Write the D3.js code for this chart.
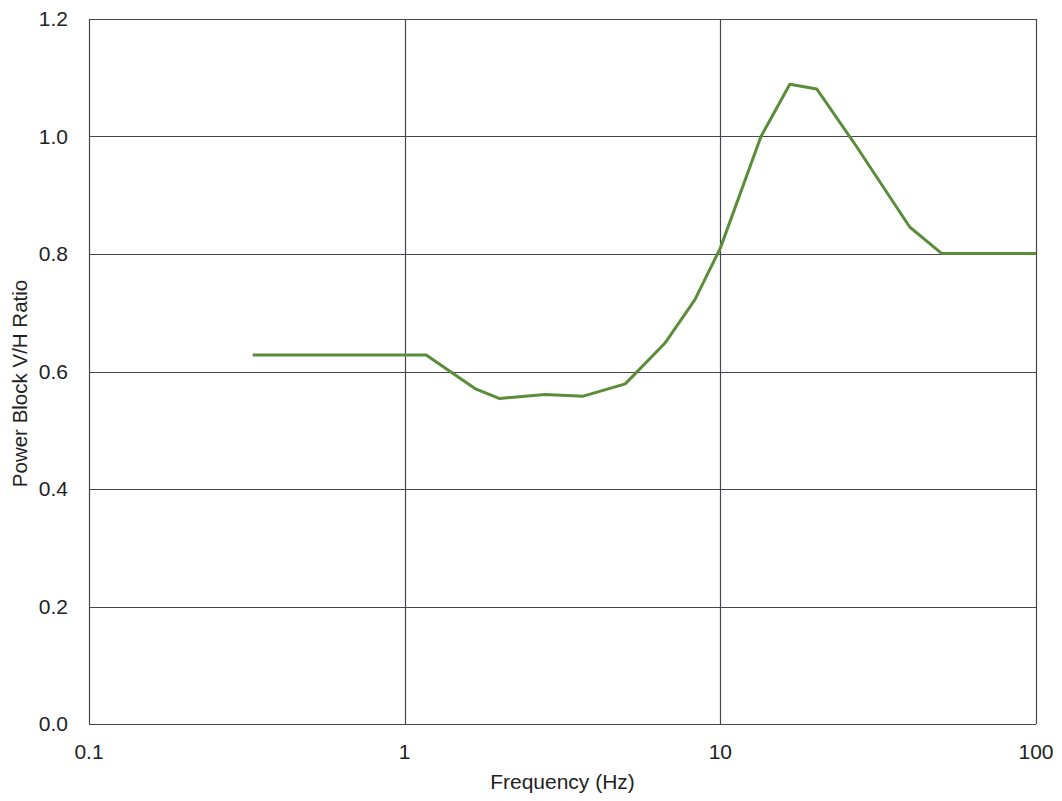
<!DOCTYPE html>
<html lang="en">
<head>
  <meta charset="UTF-8">
  <script src="https://d3js.org/d3.v7.min.js"></script>
  <style>
    body { margin: 0; background: #fff; }
    text { font-family: "Liberation Sans", Arial, sans-serif; fill: #222; }
  </style>
  <title>Power Block V/H Ratio</title>
</head>
<body>
  <div id="chart"></div>
  <script>
    // data
    var freq  = [0.33, 1.17, 1.67, 2.0, 2.78, 3.68, 5.0, 6.67, 8.3, 10, 13.45, 16.6, 20.2, 27.0, 39.8, 50.2, 100];
    var ratio = [0.628, 0.628, 0.571, 0.554, 0.561, 0.558, 0.579, 0.648, 0.722, 0.81, 1.0, 1.089, 1.081, 0.983, 0.846, 0.801, 0.801];
    var xTicks = [0.1, 1, 10, 100];
    var yTicks = [0, 0.2, 0.4, 0.6, 0.8, 1.0, 1.2];

    var width = 1062, height = 801;
    var margin = {top: 19, right: 26, bottom: 77, left: 89};
    var w = width - margin.left - margin.right;
    var h = height - margin.top - margin.bottom;

    var svg = d3.select("#chart").append("svg")
        .attr("width", width)
        .attr("height", height);
    var g = svg.append("g")
        .attr("transform", "translate(" + margin.left + "," + margin.top + ")");

    var x = d3.scaleLog().domain([0.1, 100]).range([0, w]);
    var y = d3.scaleLinear().domain([0, 1.2]).range([h, 0]);

    // grid
    g.selectAll(".hgrid").data(yTicks).enter().append("line")
        .attr("x1", 0).attr("x2", w)
        .attr("y1", function(d) { return Math.round(y(d)) + 0.5; })
        .attr("y2", function(d) { return Math.round(y(d)) + 0.5; })
        .attr("stroke", "#4a4450").attr("stroke-width", 1.2);
    g.selectAll(".vgrid").data(xTicks).enter().append("line")
        .attr("y1", 0).attr("y2", h)
        .attr("x1", function(d) { return Math.round(x(d)) + 0.5; })
        .attr("x2", function(d) { return Math.round(x(d)) + 0.5; })
        .attr("stroke", "#4a4450").attr("stroke-width", 1.2);

    // axes labels
    g.selectAll(".ylab").data(yTicks).enter().append("text")
        .attr("x", -21)
        .attr("y", function(d) { return y(d); })
        .attr("dy", "0.35em")
        .attr("text-anchor", "end")
        .style("font-size", "21px")
        .text(function(d) { return d3.format(".1f")(d); });
    g.selectAll(".xlab").data(xTicks).enter().append("text")
        .attr("x", function(d) { return x(d); })
        .attr("y", h + 35)
        .attr("text-anchor", "middle")
        .style("font-size", "21px")
        .text(function(d) { return d; });

    g.append("text")
        .attr("x", w / 2)
        .attr("y", h + 65)
        .attr("text-anchor", "middle")
        .style("font-size", "21px")
        .text("Frequency (Hz)");
    g.append("text")
        .attr("transform", "translate(" + (-69) + "," + (h / 2 + 12) + ") rotate(-90)")
        .attr("dy", "0.35em")
        .attr("text-anchor", "middle")
        .style("font-size", "20.5px")
        .text("Power Block V/H Ratio");

    // curve
    var line = d3.line()
        .x(function(d, i) { return x(freq[i]); })
        .y(function(d) { return y(d); });
    g.append("path")
        .datum(ratio)
        .attr("fill", "none")
        .attr("stroke", "#5b8c3a")
        .attr("stroke-width", 3)
        .attr("stroke-linejoin", "round")
        .attr("d", line);
  </script>
</body>
</html>
